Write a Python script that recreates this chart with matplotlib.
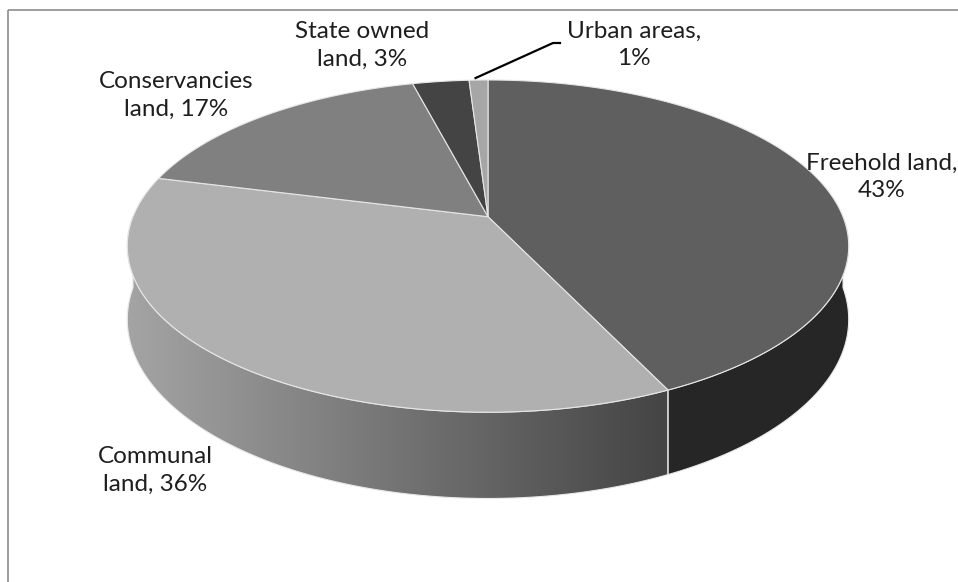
import numpy as np
import matplotlib
matplotlib.use("Agg")
import matplotlib.pyplot as plt
from matplotlib.patches import Polygon, Rectangle
from matplotlib.colors import LinearSegmentedColormap

plt.rcParams['font.family'] = ['Lato', 'DejaVu Sans']

# data (clockwise from 12 o'clock)
labels = ["Freehold land,\n43%", "Communal\nland, 36%", "Conservancies\nland, 17%",
          "State owned\nland, 3%", "Urban areas,\n1%"]
shares = [43, 36, 17, 3, 1]
top_colors = ["#5f5f5f", "#b0b0b0", "#808080", "#444444", "#a6a6a6"]
side_colors = [("#262626", "#262626"), ("#a4a4a4", "#444444"), ("#6a6a6a", "#555555"),
               ("#333333", "#333333"), ("#888888", "#888888")]
label_pos = [(882, 177), (155, 470), (176, 95), (362, 45), (634, 45)]

# layout of the 3d disc (pixels)
cx, cy = 488, 216.7
rx, ry = 355, 160.9
persp = 0.177
height = 71

W, H = 958, 582
fig = plt.figure(figsize=(W / 100, H / 100), dpi=100)
ax = fig.add_axes([0, 0, 1, 1])
ax.set_xlim(0, W)
ax.set_ylim(H, 0)
ax.axis("off")

# chart frame
ax.add_patch(Rectangle((8, 10), W, H, fill=False, ec="#8c8c8c", lw=1.2))


def proj(theta, drop=0.0):
    w = 1 + persp * np.cos(theta)
    x = cx + rx * np.sin(theta) / w
    y = cy - ry * np.cos(theta) / w + drop / w
    return x, y


frac = np.array(shares, dtype=float) / sum(shares)
edges = np.concatenate([[0], np.cumsum(frac)]) * 2 * np.pi

# side walls (front half only)
for i in range(len(shares)):
    a, b = max(edges[i], np.pi / 2), min(edges[i + 1], 3 * np.pi / 2)
    if b <= a:
        continue
    t = np.linspace(a, b, 200)
    xt, yt = proj(t)
    xb, yb = proj(t[::-1], height)
    pts = np.column_stack([np.concatenate([xt, xb]), np.concatenate([yt, yb])])
    poly = Polygon(pts, closed=True, fc="none", ec="#e8e8e8", lw=0.8, zorder=2)
    ax.add_patch(poly)
    c0, c1 = side_colors[i]
    cmap = LinearSegmentedColormap.from_list("side%d" % i, [c0, c1])
    x0, x1 = pts[:, 0].min(), pts[:, 0].max()
    y0, y1 = pts[:, 1].min(), pts[:, 1].max()
    grad = np.linspace(0, 1, 256).reshape(1, -1)
    im = ax.imshow(grad, cmap=cmap, extent=(x0, x1, y1, y0), aspect="auto", zorder=1)
    im.set_clip_path(poly)

# top faces
for i in range(len(shares)):
    t = np.linspace(edges[i], edges[i + 1], max(int(frac[i] * 400), 4))
    xt, yt = proj(t)
    pts = np.column_stack([np.concatenate([[cx], xt]), np.concatenate([[cy], yt])])
    ax.add_patch(Polygon(pts, closed=True, fc=top_colors[i], ec="#e6e6e6", lw=0.8, zorder=3))

# labels
for lab, (lx, ly) in zip(labels, label_pos):
    ax.text(lx, ly, lab, ha="center", va="center", fontsize=17.5, color="#1e1e1e",
            linespacing=1.4, zorder=5)

# leader line for the small slice
mid = (edges[-2] + edges[-1]) / 2
ux, uy = proj(mid)
ax.plot([ux - 3, 553, 560], [uy - 2, 43, 43], color="black", lw=1.6, zorder=4)

fig.savefig("out.png", dpi=100)
